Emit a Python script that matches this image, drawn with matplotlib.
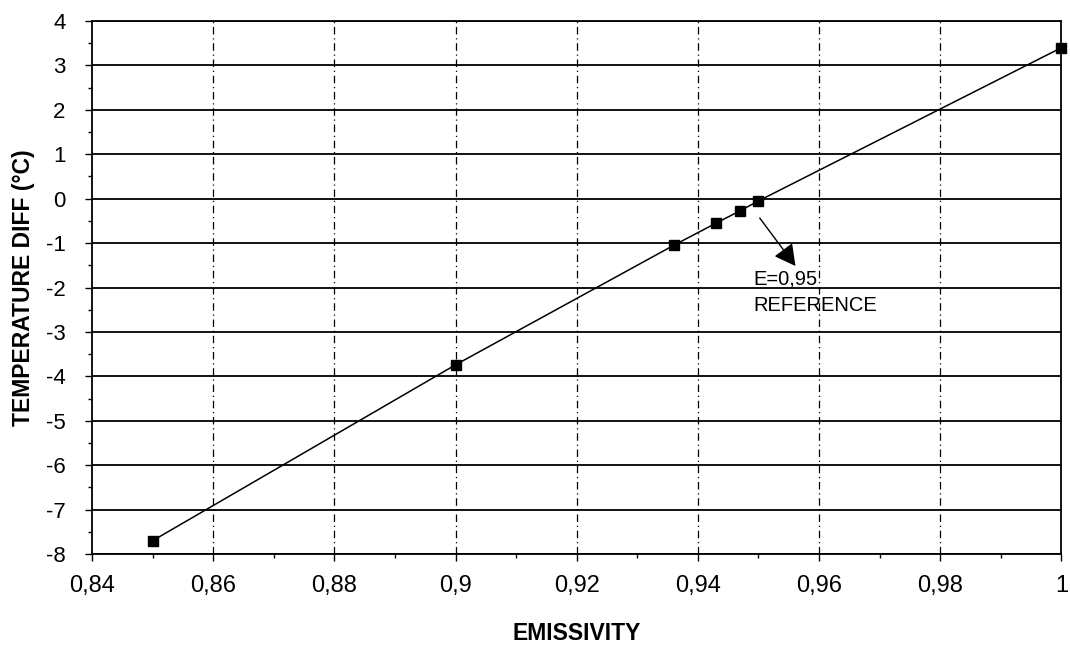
import matplotlib
matplotlib.use("Agg")
import matplotlib.pyplot as plt
from matplotlib.ticker import MultipleLocator, FuncFormatter

emissivity = [0.85, 0.90, 0.936, 0.943, 0.947, 0.95, 1.0]
temp_diff = [-7.7, -3.74, -1.05, -0.55, -0.27, -0.05, 3.4]

x_ticks = [0.84, 0.86, 0.88, 0.90, 0.92, 0.94, 0.96, 0.98, 1.0]
y_ticks = list(range(-8, 5))

plt.rcParams['font.family'] = ['Liberation Sans', 'DejaVu Sans']

fig = plt.figure(figsize=(10.70, 6.47), dpi=100)
ax = fig.add_axes([0.086, 0.1437, 0.906, 0.8238])

ax.set_xlim(0.84, 1.0)
ax.set_ylim(-8, 4)

# grid
for y in y_ticks:
    ax.axhline(y, color='black', lw=1.3, zorder=1)
for x in x_ticks[1:-1]:
    ax.axvline(x, color='black', lw=0.9, ls=(0, (6, 3, 1, 3)), zorder=1)

ax.plot(emissivity, temp_diff, color='black', lw=1.1, marker='s',
        markersize=7, markerfacecolor='black', zorder=3, clip_on=False)

ax.xaxis.set_major_locator(MultipleLocator(0.02))
ax.xaxis.set_minor_locator(MultipleLocator(0.01))
ax.yaxis.set_major_locator(MultipleLocator(1))
ax.yaxis.set_minor_locator(MultipleLocator(0.5))

def fmt_x(v, pos):
    s = ('%.2f' % v).rstrip('0').rstrip('.')
    return s.replace('.', ',')

ax.xaxis.set_major_formatter(FuncFormatter(fmt_x))
ax.yaxis.set_major_formatter(FuncFormatter(lambda v, p: '%d' % v))

ax.tick_params(axis='both', which='major', direction='out', length=5, width=1,
               colors='black')
ax.tick_params(axis='both', which='minor', direction='out', length=3, width=1)
ax.tick_params(axis='x', labelsize=17, pad=10)
ax.tick_params(axis='y', labelsize=16, pad=14)

for sp in ax.spines.values():
    sp.set_linewidth(1.3)
    sp.set_color('black')

ax.set_xlabel('EMISSIVITY', fontsize=16.5, fontweight='bold', labelpad=18)
ax.set_ylabel('TEMPERATURE DIFF (°C)', fontsize=16.5, fontweight='bold', labelpad=8)

ax.annotate('', xy=(0.9561, -1.515), xytext=(0.9502, -0.435),
            arrowprops=dict(arrowstyle='-|>,head_length=1.3,head_width=0.7',
                            color='black', lw=1.0, shrinkA=0, shrinkB=0),
            zorder=4)
ax.text(0.9492, -1.943, 'E=0,95', fontsize=14.5, ha='left', va='baseline', zorder=4)
ax.text(0.9492, -2.53, 'REFERENCE', fontsize=14.5, ha='left', va='baseline', zorder=4)

fig.savefig('out.png', dpi=100)
